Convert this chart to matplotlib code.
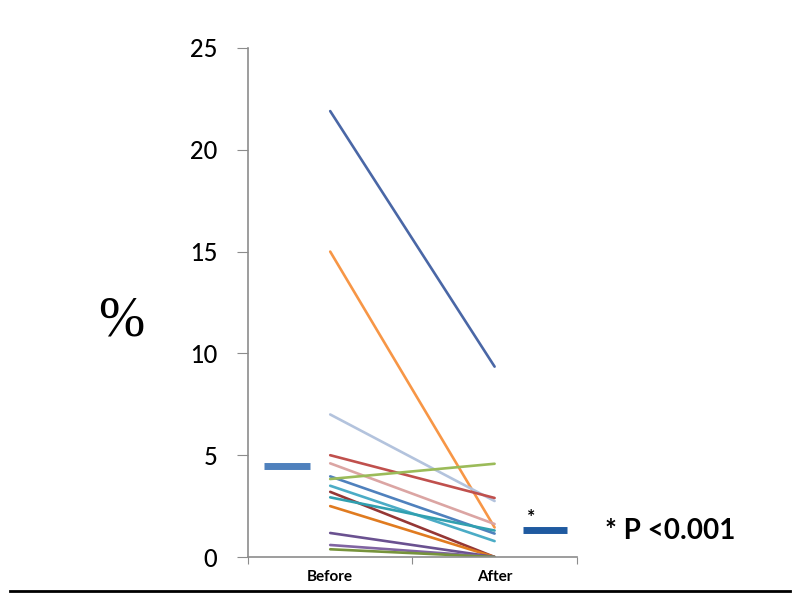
import matplotlib
matplotlib.use('Agg')
import matplotlib.pyplot as plt
from matplotlib.lines import Line2D

# Data
categories = ['Before', 'After']
before = [21.9, 15.0, 7.0, 5.0, 4.6, 3.96, 3.83, 3.5, 3.2, 2.93, 2.5, 1.18, 0.59, 0.38]
after = [9.35, 1.45, 2.75, 2.9, 1.62, 1.15, 4.58, 0.78, 0.0, 1.3, 0.0, 0.0, 0.0, 0.0]
colors = ['#4a67a6', '#f79646', '#b3c3dd', '#c0504d', '#dba5a3', '#4f81bd', '#9bbb59',
          '#4bacc6', '#953735', '#31a0b0', '#e07b20', '#6a5190', '#8064a2', '#77933c']
mean_before = 4.45
mean_after = 1.33

fig = plt.figure(figsize=(8, 6.01), dpi=100)
ax = fig.add_axes([0.31, 0.0732, 0.411, 0.847])

for b, a, c in zip(before, after, colors):
    ax.plot([0, 1], [b, a], color=c, lw=1.9, solid_capstyle='round')

# mean bars
ax.hlines(mean_before, -0.40, -0.12, color='#4f81bd', lw=5)
ax.hlines(mean_after, 1.17, 1.44, color='#1f5aa0', lw=5)
ax.text(1.22, mean_after + 0.2, '*', ha='center', va='bottom', fontsize=14,
        fontweight='bold', family='Lato')

ax.set_xlim(-0.5, 1.5)
ax.set_ylim(0, 25)

for s in ['top', 'right']:
    ax.spines[s].set_visible(False)
for s in ['left', 'bottom']:
    ax.spines[s].set_color('#8c8c8c')
    ax.spines[s].set_linewidth(1.2)

ax.set_yticks([0, 5, 10, 15, 20, 25])
ax.tick_params(axis='y', direction='out', length=8, color='#8c8c8c', pad=14,
               labelsize=17)
ax.set_xticks([-0.5, 0.5, 1.5])
ax.set_xticklabels([])
ax.tick_params(axis='x', which='major', direction='out', length=5, color='#8c8c8c')
ax.set_xticks([0, 1], minor=True)
ax.set_xticklabels(categories, minor=True, fontweight='bold', fontsize=11)
ax.tick_params(axis='x', which='minor', length=0, pad=9)
for lab in ax.get_yticklabels() + ax.get_xticklabels(minor=True):
    lab.set_family('Lato')
for lab in ax.get_yticklabels():
    lab.set_fontweight('medium')

fig.text(0.152, 0.465, '%', fontsize=40, family='Liberation Serif',
         ha='center', va='center')
fig.text(0.756, 0.117, '* P <0.001', fontsize=20, fontweight='bold', family='Lato',
         ha='left', va='center')

fig.add_artist(Line2D([0.012, 0.988], [0.017, 0.017], color='black', lw=2,
                      transform=fig.transFigure))

plt.savefig('out.png')
